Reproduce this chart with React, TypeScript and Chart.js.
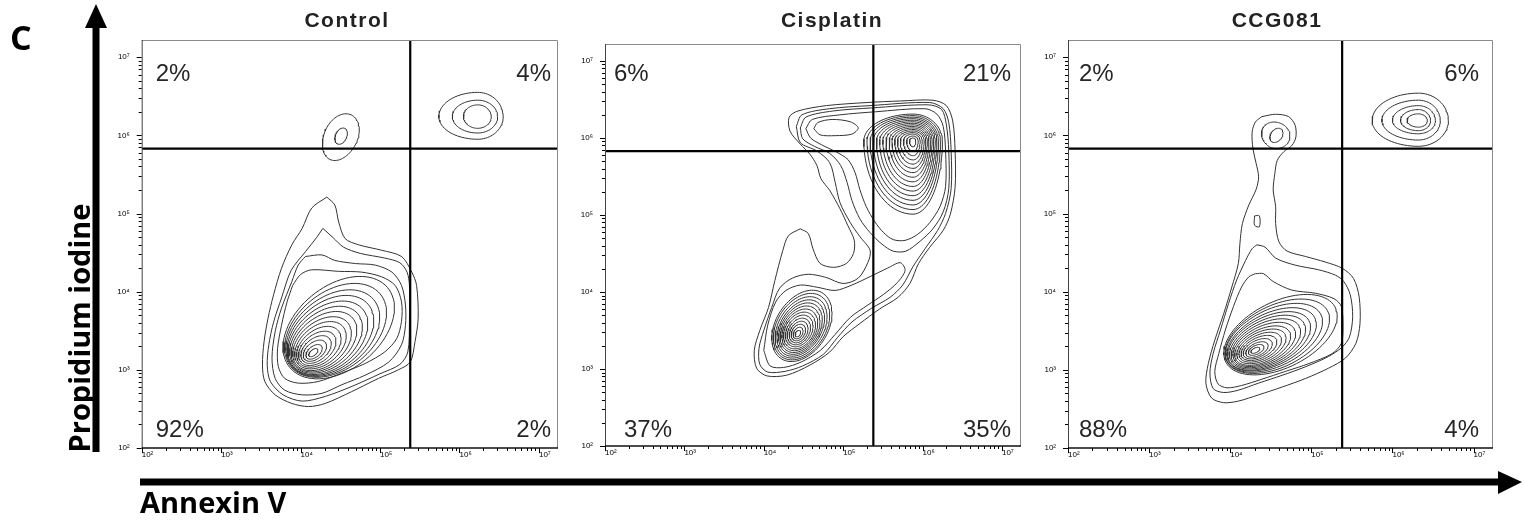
import React, { useEffect, useRef } from "react";
import { Chart, registerables } from "chart.js";

Chart.register(...registerables);

type Pt = [number, number];

// ---------------- axes (log10 of intensity) ----------------
const decades = [2, 3, 4, 5, 6, 7];
const minorSteps = [2, 3, 4, 5, 6, 7, 8, 9];
const axisMin = 2;
const xAxisMax = 7.24;
const yAxisMax = 7.22;
const annexinGate = 5.38; // vertical quadrant line
const piGate = 5.83; // horizontal quadrant line

const titles = ["Control", "Cisplatin", "CCG081"];
// order: upper-left, upper-right, lower-left, lower-right
const controlPercents = ["2%", "4%", "92%", "2%"];
const cisplatinPercents = ["6%", "21%", "37%", "35%"];
const ccgPercents = ["2%", "6%", "88%", "4%"];

// ---------------- Control contours ----------------
const ctrlOuter1: Pt[] = [[4.33,5.21],[4.14,5.07],[4.02,4.81],[3.89,4.60],[3.76,4.30],[3.66,3.96],[3.59,3.66],[3.54,3.36],[3.52,3.06],[3.55,2.85],[3.68,2.68],[3.89,2.57],[4.10,2.53],[4.31,2.57],[4.64,2.72],[4.98,2.89],[5.23,3.00],[5.38,3.10],[5.44,3.36],[5.48,3.66],[5.46,4.08],[5.40,4.25],[5.27,4.45],[5.02,4.53],[4.73,4.60],[4.56,4.68],[4.48,4.89],[4.43,5.11]];
const ctrlOuter2: Pt[] = [[4.28,4.81],[4.20,4.69],[4.06,4.51],[3.88,4.27],[3.76,3.92],[3.66,3.61],[3.60,3.32],[3.58,3.06],[3.62,2.85],[3.78,2.68],[4.02,2.60],[4.31,2.66],[4.65,2.79],[5.00,2.95],[5.25,3.07],[5.35,3.23],[5.37,3.64],[5.37,4.08],[5.34,4.25],[5.25,4.37],[5.06,4.43],[4.75,4.49],[4.54,4.57],[4.41,4.69]];
const ctrlOuter3: Pt[] = [[4.06,4.45],[4.27,4.47],[4.43,4.40],[4.69,4.36],[4.94,4.34],[5.15,4.25],[5.27,4.08],[5.32,3.83],[5.32,3.57],[5.27,3.32],[5.11,3.10],[4.81,2.93],[4.52,2.81],[4.27,2.70],[4.02,2.68],[3.80,2.74],[3.68,2.89],[3.64,3.15],[3.68,3.49],[3.76,3.79],[3.89,4.13],[3.97,4.34]];
const ctrlOuter4: Pt[] = [[3.90,4.08],[4.00,4.22],[4.14,4.28],[4.48,4.26],[4.77,4.25],[5.02,4.19],[5.19,4.08],[5.27,3.87],[5.27,3.62],[5.21,3.40],[5.06,3.23],[4.81,3.08],[4.52,2.96],[4.22,2.85],[3.97,2.83],[3.80,2.89],[3.72,3.04],[3.71,3.27],[3.76,3.57],[3.83,3.87]];
// nested rings of the main population: centre, semi-axes (tilted ellipses)
const ctrlMainCX = [4.16,4.17,4.18,4.195,4.21,4.23,4.25,4.27,4.295,4.32,4.345,4.375,4.405,4.44,4.48];
const ctrlMainCY = [3.22,3.23,3.245,3.26,3.275,3.295,3.315,3.335,3.36,3.385,3.41,3.44,3.47,3.505,3.54];
const ctrlMainA = [.07,.12,.17,.22,.27,.32,.37,.42,.47,.52,.57,.62,.67,.73,.80];
const ctrlMainB = [.035,.07,.105,.14,.175,.21,.245,.28,.315,.35,.385,.42,.455,.49,.53];
const ctrlULPeak: Pt = [4.51, 5.99];
const ctrlULRL = [.07, .21];
const ctrlULRR = [.07, .21];
const ctrlULRT = [.11, .30];
const ctrlULRB = [.11, .33];
const ctrlURPeak: Pt = [6.23, 6.24];
const ctrlURRL = [.18, .32, .49];
const ctrlURRR = [.17, .25, .32];
const ctrlURRT = [.15, .21, .31];
const ctrlURRB = [.15, .21, .29];

// ---------------- Cisplatin contours ----------------
const cisO1: Pt[] = [[4.46,4.82],[4.56,4.76],[4.62,4.56],[4.71,4.37],[4.88,4.32],[5.04,4.37],[5.13,4.50],[5.14,4.67],[5.06,4.86],[4.96,5.08],[4.83,5.32],[4.72,5.47],[4.67,5.64],[4.58,5.79],[4.46,5.92],[4.33,6.09],[4.32,6.27],[4.43,6.35],[4.79,6.42],[5.30,6.46],[5.72,6.48],[6.13,6.49],[6.30,6.42],[6.38,6.22],[6.41,5.83],[6.41,5.36],[6.35,5.01],[6.26,4.80],[6.09,4.58],[5.95,4.37],[5.84,4.11],[5.69,3.93],[5.46,3.78],[5.21,3.59],[5.00,3.42],[4.83,3.22],[4.58,3.05],[4.29,2.92],[4.04,2.91],[3.91,3.01],[3.88,3.24],[3.95,3.50],[4.06,3.80],[4.14,4.15],[4.24,4.54],[4.31,4.73]];
const cisO2: Pt[] = [[4.41,6.15],[4.48,6.30],[4.83,6.38],[5.34,6.42],[6.09,6.46],[6.26,6.38],[6.33,6.20],[6.36,5.83],[6.36,5.34],[6.29,5.02],[6.19,4.80],[6.03,4.56],[5.88,4.33],[5.75,4.09],[5.59,3.93],[5.36,3.79],[5.11,3.61],[4.93,3.41],[4.75,3.19],[4.49,3.04],[4.27,2.97],[4.05,2.96],[3.95,3.06],[3.94,3.27],[4.00,3.50],[4.10,3.80],[4.20,4.05],[4.36,4.18],[4.56,4.23],[4.78,4.19],[5.00,4.11],[5.19,4.18],[5.31,4.38],[5.34,4.54],[5.21,4.72],[5.09,4.90],[4.96,5.16],[4.90,5.42],[4.83,5.68],[4.67,5.83],[4.46,5.94]];
const cisO3: Pt[] = [[4.00,3.24],[4.05,3.57],[4.15,3.87],[4.28,4.02],[4.46,4.09],[4.68,4.06],[4.90,4.02],[5.11,4.09],[5.34,4.20],[5.56,4.31],[5.72,4.38],[5.78,4.28],[5.68,4.12],[5.51,3.97],[5.31,3.83],[5.09,3.67],[4.90,3.45],[4.71,3.24],[4.47,3.09],[4.25,3.02],[4.08,3.04]];
const cisA1: Pt[] = [[4.46,6.13],[4.53,6.27],[4.87,6.35],[5.36,6.39],[6.07,6.43],[6.24,6.37],[6.30,6.17],[6.33,5.83],[6.33,5.34],[6.26,5.04],[6.13,4.82],[5.97,4.66],[5.79,4.53],[5.63,4.53],[5.49,4.62],[5.34,4.77],[5.21,4.95],[5.11,5.19],[5.05,5.42],[4.97,5.64],[4.83,5.80],[4.64,5.89],[4.49,5.99]];
const cisA2: Pt[] = [[4.53,6.12],[4.61,6.24],[4.96,6.30],[5.41,6.34],[6.03,6.38],[6.18,6.31],[6.26,6.15],[6.29,5.83],[6.29,5.37],[6.22,5.11],[6.09,4.90],[5.94,4.75],[5.78,4.67],[5.63,4.68],[5.51,4.77],[5.40,4.91],[5.29,5.11],[5.21,5.33],[5.15,5.55],[5.06,5.72],[4.91,5.82],[4.73,5.91],[4.59,6.00]];
const cisA3: Pt[] = [[4.63,6.12],[4.68,6.20],[4.86,6.24],[5.09,6.21],[5.19,6.13],[5.11,6.05],[4.90,6.03],[4.71,6.04]];
const cisLowCX = [4.43,4.433,4.436,4.44,4.443,4.447,4.45,4.454,4.458,4.462,4.466,4.47,4.475,4.48];
const cisLowCY = [3.46,3.467,3.474,3.48,3.487,3.494,3.50,3.508,3.516,3.524,3.532,3.54,3.55,3.56];
const cisLowA = [.045,.08,.115,.15,.185,.22,.255,.29,.325,.36,.395,.43,.465,.50];
const cisLowB = [.03,.055,.08,.105,.13,.155,.18,.20,.22,.24,.26,.285,.31,.33];
const cisUpPeak: Pt = [5.88, 5.96];
const cisUpRL = [.045,.08,.12,.16,.195,.23,.265,.30,.34,.38,.42,.46,.50,.54,.58,.62];
const cisUpRR = [.035,.065,.09,.115,.14,.16,.18,.20,.22,.24,.26,.28,.30,.32,.345,.37];
const cisUpRT = [.04,.065,.09,.11,.13,.15,.17,.19,.21,.23,.25,.27,.29,.31,.33,.35];
const cisUpRB = [.075,.135,.19,.245,.30,.355,.41,.47,.53,.59,.65,.71,.77,.83,.89,.95];

// ---------------- CCG081 contours ----------------
const ccgP1: Pt[] = [[4.39,6.24],[4.56,6.27],[4.72,6.24],[4.80,6.13],[4.81,5.98],[4.76,5.87],[4.66,5.79],[4.58,5.68],[4.55,5.51],[4.53,5.30],[4.56,5.09],[4.56,4.87],[4.60,4.64],[4.70,4.52],[4.93,4.45],[5.17,4.38],[5.38,4.30],[5.52,4.17],[5.59,3.93],[5.60,3.59],[5.55,3.34],[5.42,3.15],[5.21,3.02],[4.93,2.89],[4.64,2.78],[4.35,2.68],[4.10,2.60],[3.92,2.58],[3.77,2.64],[3.70,2.83],[3.73,3.08],[3.81,3.38],[3.92,3.72],[4.02,4.06],[4.10,4.36],[4.12,4.62],[4.15,4.87],[4.23,5.11],[4.32,5.31],[4.35,5.47],[4.32,5.64],[4.28,5.83],[4.27,6.04],[4.31,6.17]];
const ccgP2: Pt[] = [[4.33,4.60],[4.43,4.57],[4.56,4.43],[4.80,4.34],[5.09,4.28],[5.30,4.21],[5.40,4.13],[5.48,3.96],[5.51,3.68],[5.47,3.42],[5.38,3.29],[5.21,3.17],[4.93,3.04],[4.64,2.93],[4.35,2.83],[4.10,2.74],[3.92,2.71],[3.79,2.76],[3.75,2.96],[3.79,3.21],[3.88,3.51],[3.98,3.85],[4.08,4.15],[4.19,4.40],[4.27,4.55]];
const ccgP3: Pt[] = [[4.31,4.23],[4.41,4.23],[4.53,4.13],[4.76,4.02],[5.05,3.98],[5.28,3.91],[5.37,3.81],[5.39,3.55],[5.37,3.34],[5.26,3.21],[4.97,3.08],[4.68,2.98],[4.39,2.88],[4.14,2.80],[3.96,2.77],[3.85,2.82],[3.81,2.98],[3.86,3.21],[3.94,3.51],[4.04,3.81],[4.14,4.06],[4.23,4.19]];
const ccgIsland: Pt[] = [[4.30,4.97],[4.36,4.97],[4.36,4.83],[4.30,4.85]];
const ccgMainCX = [4.31,4.32,4.33,4.34,4.355,4.37,4.385,4.40,4.42,4.44,4.46,4.48,4.51,4.54,4.58,4.62];
const ccgMainCY = [3.25,3.255,3.26,3.27,3.28,3.29,3.30,3.31,3.325,3.34,3.355,3.37,3.39,3.41,3.43,3.45];
const ccgMainA = [.06,.105,.15,.195,.24,.285,.33,.375,.42,.465,.51,.555,.60,.65,.70,.76];
const ccgMainB = [.03,.055,.08,.105,.13,.155,.18,.205,.23,.255,.28,.305,.33,.36,.39,.42];
const ccgULPeak: Pt = [4.57, 6.00];
const ccgULRL = [.07, .19];
const ccgULRR = [.07, .17];
const ccgULRT = [.10, .16];
const ccgULRB = [.10, .17];
const ccgURPeak: Pt = [6.32, 6.19];
const ccgURRL = [.14, .22, .32, .45, .57];
const ccgURRR = [.11, .15, .21, .27, .37];
const ccgURRT = [.085, .14, .19, .26, .35];
const ccgURRB = [.085, .13, .17, .25, .33];

// ---------------- assembly ----------------
interface Blob { peak?: Pt; cx?: number[]; cy?: number[]; tilt: number; rl: number[]; rr: number[]; rt: number[]; rb: number[]; }
interface PanelSpec { title: string; percents: string[]; polys: Pt[][]; blobs: Blob[]; }

const ellipseBlob = (cx: number[], cy: number[], a: number[], b: number[], tilt: number): Blob => ({ cx, cy, tilt, rl: a, rr: a, rt: b, rb: b });

const panels: PanelSpec[] = [
  {
    title: titles[0], percents: controlPercents,
    polys: [ctrlOuter1, ctrlOuter2, ctrlOuter3, ctrlOuter4],
    blobs: [
      ellipseBlob(ctrlMainCX, ctrlMainCY, ctrlMainA, ctrlMainB, 40),
      { peak: ctrlULPeak, tilt: -25, rl: ctrlULRL, rr: ctrlULRR, rt: ctrlULRT, rb: ctrlULRB },
      { peak: ctrlURPeak, tilt: 0, rl: ctrlURRL, rr: ctrlURRR, rt: ctrlURRT, rb: ctrlURRB },
    ],
  },
  {
    title: titles[1], percents: cisplatinPercents,
    polys: [cisO1, cisO2, cisO3, cisA1, cisA2, cisA3],
    blobs: [
      ellipseBlob(cisLowCX, cisLowCY, cisLowA, cisLowB, 60),
      { peak: cisUpPeak, tilt: 0, rl: cisUpRL, rr: cisUpRR, rt: cisUpRT, rb: cisUpRB },
    ],
  },
  {
    title: titles[2], percents: ccgPercents,
    polys: [ccgP1, ccgP2, ccgP3, ccgIsland],
    blobs: [
      ellipseBlob(ccgMainCX, ccgMainCY, ccgMainA, ccgMainB, 28),
      { peak: ccgULPeak, tilt: -35, rl: ccgULRL, rr: ccgULRR, rt: ccgULRT, rb: ccgULRB },
      { peak: ccgURPeak, tilt: 0, rl: ccgURRL, rr: ccgURRR, rt: ccgURRT, rb: ccgURRB },
    ],
  },
];

// layout of each panel (page pixels)
const layouts = [
  { left: 100, width: 470, yw: 41.7, padR: 12, padT: 40, xh: 32, titleX: 347, ul: 14, ur: 7, ll: 14, lr: 7, topBase: 40.7, botBase: 11.3 },
  { left: 565, width: 470, yw: 40, padR: 14, padT: 44, xh: 34, titleX: 832, ul: 9, ur: 10, ll: 19, lr: 10, topBase: 36.7, botBase: 9.3 },
  { left: 1028, width: 480, yw: 40, padR: 15, padT: 40, xh: 32, titleX: 1277, ul: 11, ur: 14, ll: 11, lr: 14, topBase: 40.7, botBase: 11.3 },
];
const CANVAS_H = 480;

const SUP: Record<number, string> = { 2: "\u00b2", 3: "\u00b3", 4: "\u2074", 5: "\u2075", 6: "\u2076", 7: "\u2077" };
const CONTOUR = "#333333";
const TICK_FONT = '"Liberation Sans", Arial, sans-serif';

function polyData(p: Pt[]) {
  const d = p.map(([x, y]) => ({ x, y }));
  d.push({ ...d[0] });
  return d;
}

function ringData(b: Blob, i: number) {
  const n = 80;
  const a = (b.tilt * Math.PI) / 180;
  const ca = Math.cos(a), sa = Math.sin(a);
  const cx = b.cx ? b.cx[i] : (b.peak as Pt)[0];
  const cy = b.cy ? b.cy[i] : (b.peak as Pt)[1];
  const pts: { x: number; y: number }[] = [];
  for (let k = 0; k <= n; k++) {
    const t = (k / n) * Math.PI * 2;
    const c = Math.cos(t), s = Math.sin(t);
    const u = c * (c >= 0 ? b.rr[i] : b.rl[i]);
    const v = s * (s >= 0 ? b.rt[i] : b.rb[i]);
    pts.push({ x: cx + u * ca - v * sa, y: cy + u * sa + v * ca });
  }
  return pts;
}

function lineDs(data: { x: number; y: number }[], tension: number) {
  return { data, showLine: true, borderColor: CONTOUR, borderWidth: 1, pointRadius: 0, tension, fill: false, order: 1 };
}

const decorPlugin = {
  id: "flowDecor",
  afterDatasetsDraw(chart: any) {
    const idx: number = chart.options.plugins.flowDecor.idx;
    const lay = layouts[idx];
    const spec = panels[idx];
    const ctx: CanvasRenderingContext2D = chart.ctx;
    const { left, right, top, bottom } = chart.chartArea;
    const xs = chart.scales.x, ys = chart.scales.y;
    ctx.save();
    // frame
    ctx.strokeStyle = "#8a8a8a";
    ctx.lineWidth = 1;
    ctx.beginPath();
    ctx.moveTo(left, top + 0.5); ctx.lineTo(right - 0.5, top + 0.5); ctx.lineTo(right - 0.5, bottom);
    ctx.stroke();
    ctx.strokeStyle = "#444";
    ctx.beginPath(); ctx.moveTo(left + 0.5, top); ctx.lineTo(left + 0.5, bottom); ctx.stroke();
    ctx.strokeStyle = "#111"; ctx.lineWidth = 1.6;
    ctx.beginPath(); ctx.moveTo(left, bottom); ctx.lineTo(right, bottom); ctx.stroke();
    // tick marks
    ctx.strokeStyle = "#000"; ctx.lineWidth = 1;
    for (const d of decades) {
      for (const k of [1, ...minorSteps]) {
        const v = d + Math.log10(k);
        const len = k === 1 ? 5 : 3;
        if (v <= xAxisMax) {
          const px = Math.round(xs.getPixelForValue(v)) + 0.5;
          ctx.beginPath(); ctx.moveTo(px, bottom); ctx.lineTo(px, bottom + len); ctx.stroke();
        }
        if (v <= yAxisMax) {
          const py = Math.round(ys.getPixelForValue(v)) + 0.5;
          ctx.beginPath(); ctx.moveTo(left - len, py); ctx.lineTo(left, py); ctx.stroke();
        }
      }
    }
    // title
    ctx.fillStyle = "#222";
    ctx.font = 'bold 21px "Liberation Sans", Arial, sans-serif';
    (ctx as any).letterSpacing = "1.5px";
    ctx.textAlign = "center";
    ctx.textBaseline = "alphabetic";
    ctx.fillText(spec.title, lay.titleX - lay.left, 27);
    (ctx as any).letterSpacing = "0px";
    // quadrant percentages
    ctx.font = '24px "Liberation Sans", Arial, sans-serif';
    ctx.fillStyle = "#262626";
    const [ul, ur, ll, lr] = spec.percents;
    ctx.textAlign = "left";
    ctx.fillText(ul, left + lay.ul, top + lay.topBase);
    ctx.fillText(ll, left + lay.ll, bottom - lay.botBase);
    ctx.textAlign = "right";
    ctx.fillText(ur, right - lay.ur, top + lay.topBase);
    ctx.fillText(lr, right - lay.lr, bottom - lay.botBase);
    ctx.restore();
  },
};

function FlowPanel({ idx }: { idx: number }) {
  const ref = useRef<HTMLCanvasElement>(null);
  const lay = layouts[idx];
  useEffect(() => {
    const spec = panels[idx];
    const datasets: any[] = [];
    datasets.push({ data: [{ x: annexinGate, y: axisMin }, { x: annexinGate, y: yAxisMax }], showLine: true, borderColor: "#000", borderWidth: 2.2, pointRadius: 0, order: 0 });
    datasets.push({ data: [{ x: axisMin, y: piGate }, { x: xAxisMax, y: piGate }], showLine: true, borderColor: "#000", borderWidth: 2.2, pointRadius: 0, order: 0 });
    spec.polys.forEach((p) => datasets.push(lineDs(polyData(p), 0.3)));
    spec.blobs.forEach((b) => b.rl.forEach((_, i) => datasets.push(lineDs(ringData(b, i), 0))));
    const tickFont = { family: TICK_FONT, size: 8 };
    const chart = new Chart(ref.current as HTMLCanvasElement, {
      type: "scatter",
      data: { datasets },
      plugins: [decorPlugin],
      options: {
        animation: false,
        responsive: false,
        devicePixelRatio: 1,
        events: [],
        layout: { padding: { top: lay.padT, right: lay.padR, left: 0, bottom: 0 } },
        plugins: { legend: { display: false }, tooltip: { enabled: false }, title: { display: false }, flowDecor: { idx } } as any,
        scales: {
          x: {
            type: "linear", min: axisMin, max: xAxisMax,
            afterBuildTicks: (s: any) => { s.ticks = decades.map((v) => ({ value: v })); },
            afterFit: (s: any) => { s.height = lay.xh; },
            ticks: { callback: (v: any) => "10" + SUP[v as number], font: tickFont, color: "#000", padding: 2, align: "start", autoSkip: false, maxRotation: 0 },
            grid: { display: false, drawTicks: false },
            border: { display: false },
          },
          y: {
            type: "linear", min: axisMin, max: yAxisMax,
            afterBuildTicks: (s: any) => { s.ticks = decades.map((v) => ({ value: v })); },
            afterFit: (s: any) => { s.width = lay.yw; },
            ticks: { callback: (v: any) => "10" + SUP[v as number], font: tickFont, color: "#000", padding: 12, autoSkip: false },
            grid: { display: false, drawTicks: false },
            border: { display: false },
          },
        },
      } as any,
    });
    return () => chart.destroy();
  }, [idx]);
  return (
    <canvas
      ref={ref}
      width={lay.width}
      height={CANVAS_H}
      style={{ position: "absolute", left: lay.left, top: 0, width: lay.width, height: CANVAS_H }}
    />
  );
}

export default function App() {
  const bold = { fontFamily: '"Open Sans", sans-serif', fontWeight: 700 } as const;
  return (
    <div style={{ position: "absolute", left: 0, top: 0, width: 1524, height: 521, background: "#fff", overflow: "hidden" }}>
      <FlowPanel idx={0} />
      <FlowPanel idx={1} />
      <FlowPanel idx={2} />
      <svg width={1524} height={521} style={{ position: "absolute", left: 0, top: 0, pointerEvents: "none" }}>
        <rect x={92.5} y={24} width={7} height={428} fill="#000" />
        <polygon points="85,28 107,28 96,4" fill="#000" />
        <rect x={140} y={478.5} width={1360} height={7} fill="#000" />
        <polygon points="1498,471 1498,494 1522,482" fill="#000" />
        <text x={10} y={50} fontSize={34} style={bold} fill="#000">C</text>
        <text transform="translate(90,328) rotate(-90)" textAnchor="middle" fontSize={29} style={bold} fill="#000">Propidium iodine</text>
        <text x={140} y={513} fontSize={29} style={bold} fill="#000">Annexin V</text>
      </svg>
    </div>
  );
}
